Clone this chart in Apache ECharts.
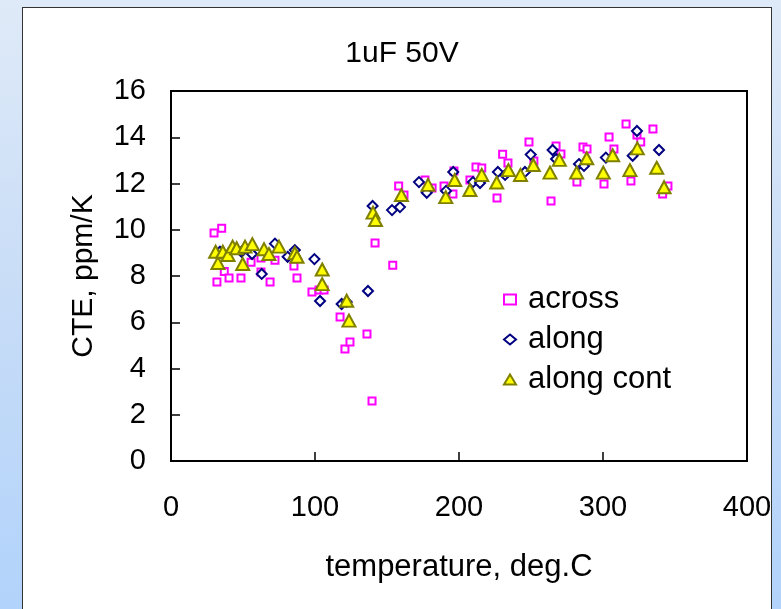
<!DOCTYPE html>
<html>
<head>
<meta charset="utf-8">
<script src="https://cdn.jsdelivr.net/npm/echarts@6/dist/echarts.min.js"></script>
<style>
  html, body { margin: 0; padding: 0; width: 781px; height: 609px; overflow: hidden; }
  body { background: linear-gradient(to bottom, #dfeaf8 0%, #c7dcf7 50%, #b2d3fb 100%); position: relative; }
  #panel { position: absolute; left: 22px; top: 7px; width: 750px; height: 620px; background: #fff; border: 1px solid #333; box-sizing: border-box; }
  #chart { position: absolute; left: 0; top: 0; width: 781px; height: 609px; }
</style>
</head>
<body>
<div id="panel"></div>
<div id="chart"></div>
<script>
// CTE measurements of a 1uF 50V capacitor: [temperature degC, CTE ppm/K]
const across = [
  [29.9, 9.86], [35.2, 10.06], [31.9, 7.74], [37.0, 8.19], [40.3, 7.91], [48.6, 7.91],
  [55.6, 8.59], [62.5, 8.78], [62.5, 8.17], [68.8, 7.74], [72.2, 8.68], [85.4, 8.43],
  [87.5, 7.91], [97.9, 7.31], [102.8, 7.39], [106.3, 7.39], [117.4, 6.23], [120.8, 4.84],
  [124.3, 5.15], [136.1, 5.49], [139.6, 2.59], [141.7, 9.43], [154.0, 8.47], [158.1, 11.89],
  [161.8, 11.50], [176.4, 12.15], [181.3, 11.81], [189.6, 11.89], [195.8, 11.55], [196.5, 12.54],
  [207.6, 12.15], [211.8, 12.71], [215.8, 12.67], [226.4, 11.37], [230.3, 13.27], [234.0, 12.89],
  [248.6, 13.79], [252.0, 12.97], [263.9, 11.24], [267.4, 13.62], [270.8, 13.28], [281.9, 12.06],
  [286.1, 13.58], [288.9, 13.49], [300.7, 11.98], [304.2, 14.01], [307.6, 13.49], [316.0, 14.57],
  [319.4, 12.11], [323.6, 14.10], [326.2, 13.79], [334.7, 14.36], [341.4, 11.55], [345.1, 11.89]
];
const along = [
  [34.0, 9.05], [49.0, 9.05], [56.3, 8.95], [63.0, 8.09], [72.2, 9.40], [81.0, 8.83],
  [86.0, 9.12], [99.6, 8.73], [103.5, 6.92], [118.5, 6.79], [122.0, 6.88], [136.8, 7.35],
  [140.0, 11.03], [153.5, 10.85], [159.0, 10.98], [172.2, 12.06], [177.6, 11.60], [191.0, 11.68],
  [196.0, 12.50], [209.7, 12.06], [214.6, 12.02], [227.0, 12.50], [232.0, 12.37], [245.8, 12.50],
  [249.8, 13.25], [265.0, 13.45], [267.4, 13.06], [283.3, 12.84], [286.8, 12.76], [302.0, 13.12],
  [320.6, 13.20], [323.6, 14.27], [338.9, 13.45]
];
const alongCont = [
  [31.0, 9.05], [32.6, 8.56], [36.0, 9.05], [39.6, 8.91], [42.8, 9.27], [45.6, 9.20],
  [49.8, 8.52], [51.4, 9.27], [56.5, 9.38], [64.6, 9.16], [68.0, 8.95], [75.0, 9.27],
  [86.0, 8.99], [87.5, 8.83], [105.0, 8.28], [105.0, 7.65], [122.0, 6.93], [123.6, 6.07],
  [140.3, 10.74], [142.0, 10.42], [160.0, 11.50], [178.5, 11.94], [190.8, 11.41], [197.0, 12.15],
  [207.6, 11.72], [215.8, 12.37], [226.2, 12.04], [234.3, 12.58], [242.7, 12.37], [251.6, 12.80],
  [263.2, 12.47], [269.7, 13.02], [281.7, 12.47], [288.7, 13.09], [300.2, 12.47], [306.7, 13.22],
  [318.7, 12.58], [323.8, 13.52], [337.3, 12.68], [342.4, 11.84]
];

const FONT = 'Liberation Sans, Arial, sans-serif';
const chart = echarts.init(document.getElementById('chart'));
chart.setOption({
  backgroundColor: 'transparent',
  animation: false,
  textStyle: { fontFamily: FONT, color: '#000' },
  title: {
    text: '1uF 50V',
    left: 397, top: 34, textAlign: 'center',
    textStyle: { fontFamily: FONT, fontSize: 30, fontWeight: 'normal', color: '#000' }
  },
  grid: { left: 171, top: 91, width: 576, height: 370, show: true, borderColor: '#000', borderWidth: 2, backgroundColor: 'transparent' },
  legend: {
    orient: 'vertical',
    left: 498, top: 279,
    itemGap: 9,
    itemWidth: 12, itemHeight: 10,
    textStyle: { fontFamily: FONT, fontSize: 31, color: '#000', padding: [0, 0, 0, 7] },
    data: ['across', 'along', 'along cont']
  },
  xAxis: {
    type: 'value', min: 0, max: 400, interval: 100,
    name: 'temperature, deg.C', nameLocation: 'middle', nameGap: 91,
    nameTextStyle: { fontFamily: FONT, fontSize: 31, color: '#000' },
    axisLine: { lineStyle: { color: '#000', width: 2 } },
    axisTick: { inside: true, length: 9, lineStyle: { color: '#000', width: 1.5 } },
    axisLabel: { fontFamily: FONT, fontSize: 29, color: '#000', margin: 32 },
    splitLine: { show: false }
  },
  yAxis: {
    type: 'value', min: 0, max: 16, interval: 2,
    name: 'CTE, ppm/K', nameLocation: 'middle', nameGap: 72, nameRotate: 90,
    nameTextStyle: { fontFamily: FONT, fontSize: 30, color: '#000' },
    axisLine: { show: true, lineStyle: { color: '#000', width: 2 } },
    axisTick: { show: true, inside: true, length: 9, lineStyle: { color: '#000', width: 1.5 } },
    axisLabel: { fontFamily: FONT, fontSize: 29, color: '#000', margin: 25 },
    splitLine: { show: false }
  },
  series: [
    {
      name: 'across', type: 'scatter', data: across,
      symbol: 'rect', symbolSize: 7,
      itemStyle: { color: '#ffffff', borderColor: '#ff00ff', borderWidth: 2, opacity: 1 }
    },
    {
      name: 'along', type: 'scatter', data: along,
      symbol: 'diamond', symbolSize: 10,
      itemStyle: { color: '#ffffff', borderColor: '#000080', borderWidth: 2, opacity: 1 }
    },
    {
      name: 'along cont', type: 'scatter', data: alongCont,
      symbol: 'triangle', symbolSize: [13, 12],
      itemStyle: { color: '#ffff00', borderColor: '#808000', borderWidth: 2, opacity: 1 }
    }
  ]
});
</script>
</body>
</html>
